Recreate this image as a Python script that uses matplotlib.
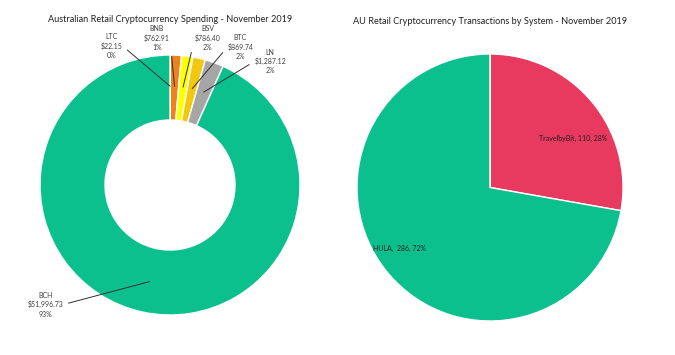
import matplotlib
matplotlib.use('Agg')
import matplotlib.pyplot as plt
import numpy as np

# spending by coin, Nov 2019 (AUD)
coins = ['LTC', 'BNB', 'BSV', 'BTC', 'LN', 'BCH']
spend = [22.15, 762.91, 786.40, 869.74, 1287.12, 51996.73]
spend_pct = [0, 1, 2, 2, 2, 93]   # as printed on the chart
coin_colors = ['#4472C4', '#F0821E', '#FFFF00', '#F2C80F', '#A6A6A6', '#0CC08E']

# transactions by system
systems = ['TravelbyBit', 'HULA']
txns = [110, 286]
txn_pct = [28, 72]
sys_colors = ['#E8395F', '#0CC08E']

plt.rcParams['font.family'] = ['Lato', 'DejaVu Sans']

W, H = 675, 355
fig = plt.figure(figsize=(W / 100, H / 100), dpi=100)

def box(l, t, r, b):
    return [l / W, 1 - b / H, (r - l) / W, (b - t) / H]

# ---- left: donut ----
ax1 = fig.add_axes(box(40, 55, 300, 315))
wedges, _ = ax1.pie(spend, colors=coin_colors, startangle=90, counterclock=False,
                    radius=1, wedgeprops=dict(width=0.5, edgecolor='white', linewidth=1))
ax1.set_xlim(-1, 1)
ax1.set_ylim(-1, 1)
ax1.set_aspect('auto')
ax1.axis('off')

# label positions (data coords) and which side the leader leaves from
lbl_pos = {'LTC': (-0.45, 1.07), 'BNB': (-0.10, 1.13), 'BSV': (0.29, 1.13),
           'BTC': (0.54, 1.06), 'LN': (0.77, 0.95), 'BCH': (-0.96, -0.92)}
lbl_side = {'LTC': 1, 'BNB': 1, 'BSV': 0, 'BTC': 0, 'LN': 0, 'BCH': 1}
for w, name, v, pct in zip(wedges, coins, spend, spend_pct):
    ang = np.deg2rad((w.theta1 + w.theta2) / 2)
    tip = (0.76 * np.cos(ang), 0.76 * np.sin(ang))
    txt = f'{name}\n${v:,.2f}\n{pct}%'
    ax1.annotate(txt, xy=tip, xytext=lbl_pos[name], ha='center', va='center',
                 fontsize=5, color='#404040', linespacing=1.35, annotation_clip=False,
                 arrowprops=dict(arrowstyle='-', color='#303030', lw=0.7,
                                 relpos=(lbl_side[name], 0.5), shrinkA=2, shrinkB=0))

fig.text(170 / W, 1 - 20 / H, 'Australian Retail Cryptocurrency Spending - November 2019',
         ha='center', va='center', fontsize=6.6, color='#202020')

# ---- right: pie ----
ax2 = fig.add_axes(box(357, 54, 623, 321))
wedges2, _ = ax2.pie(txns, colors=sys_colors, startangle=90, counterclock=False,
                     radius=1, wedgeprops=dict(edgecolor='white', linewidth=1))
ax2.set_xlim(-1, 1)
ax2.set_ylim(-1, 1)
ax2.set_aspect('auto')
ax2.axis('off')

sys_lbl_pos = [(0.625, 0.365), (-0.68, -0.455)]
sep = {'TravelbyBit': ', ', 'HULA': ',  '}
for name, v, pct, p in zip(systems, txns, txn_pct, sys_lbl_pos):
    ax2.text(p[0], p[1], f'{name}{sep[name]}{v}, {pct}%',
             ha='center', va='center', fontsize=5, color='#202020')

fig.text(490 / W, 1 - 21 / H, 'AU Retail Cryptocurrency Transactions by System - November 2019',
         ha='center', va='center', fontsize=6.6, color='#202020')

fig.savefig('out.png', dpi=100)
